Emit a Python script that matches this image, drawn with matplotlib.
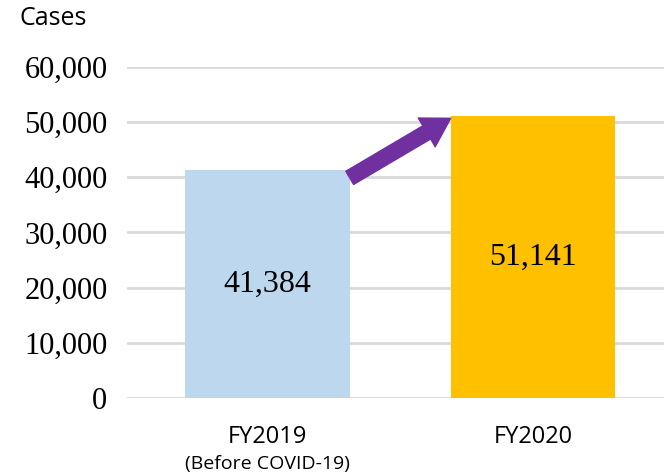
import matplotlib
matplotlib.use("Agg")
from matplotlib import pyplot as plt

# datos
categorias = ["FY2019", "FY2020"]
notas = ["(Before COVID-19)", ""]
casos = [41384, 51141]
colores = ["#BDD7EE", "#FFC000"]
ticks_y = [0, 10000, 20000, 30000, 40000, 50000, 60000]

fig = plt.figure(figsize=(6.64, 4.73), dpi=100)
ax = fig.add_axes([0.191, 0.1586, 0.809, 0.6998])

x = range(len(categorias))
ax.bar(x, casos, width=0.62, color=colores, zorder=2)

for i, v in enumerate(casos):
    ax.text(i, v / 2, f"{v:,}", ha="center", va="center",
            fontsize=23, family="Liberation Serif", color="black", zorder=3)

ax.set_xlim(-0.529, 1.493)
ax.set_ylim(0, 60000)
ax.set_yticks(ticks_y)
ax.set_yticklabels([f"{t:,}" for t in ticks_y], family="Liberation Serif", fontsize=22)
ax.set_xticks([])
ax.tick_params(axis="y", length=0, pad=14)
ax.grid(axis="y", color="#D9D9D9", linewidth=2, zorder=0)
ax.set_axisbelow(True)
for s in ax.spines.values():
    s.set_visible(False)

# etiquetas de categorias
trans = ax.get_xaxis_transform()
for i, (c, n) in enumerate(zip(categorias, notas)):
    ax.text(i, -0.118, c, transform=trans, ha="center", va="center",
            family="Open Sans", fontsize=17)
    if n:
        ax.text(i, -0.198, n, transform=trans, ha="center", va="center",
                family="Open Sans", fontsize=14)

# flecha
ax.annotate("", xy=(0.69, 50700), xytext=(0.31, 39900),
            arrowprops=dict(arrowstyle="simple,head_length=1.0,head_width=1.2,tail_width=0.55",
                            color="#7030A0", mutation_scale=20, shrinkA=0, shrinkB=0),
            zorder=4)

fig.text(0.03, 0.961, "Cases", family="Open Sans", fontsize=18, va="center")

fig.savefig("out.png", dpi=100)
